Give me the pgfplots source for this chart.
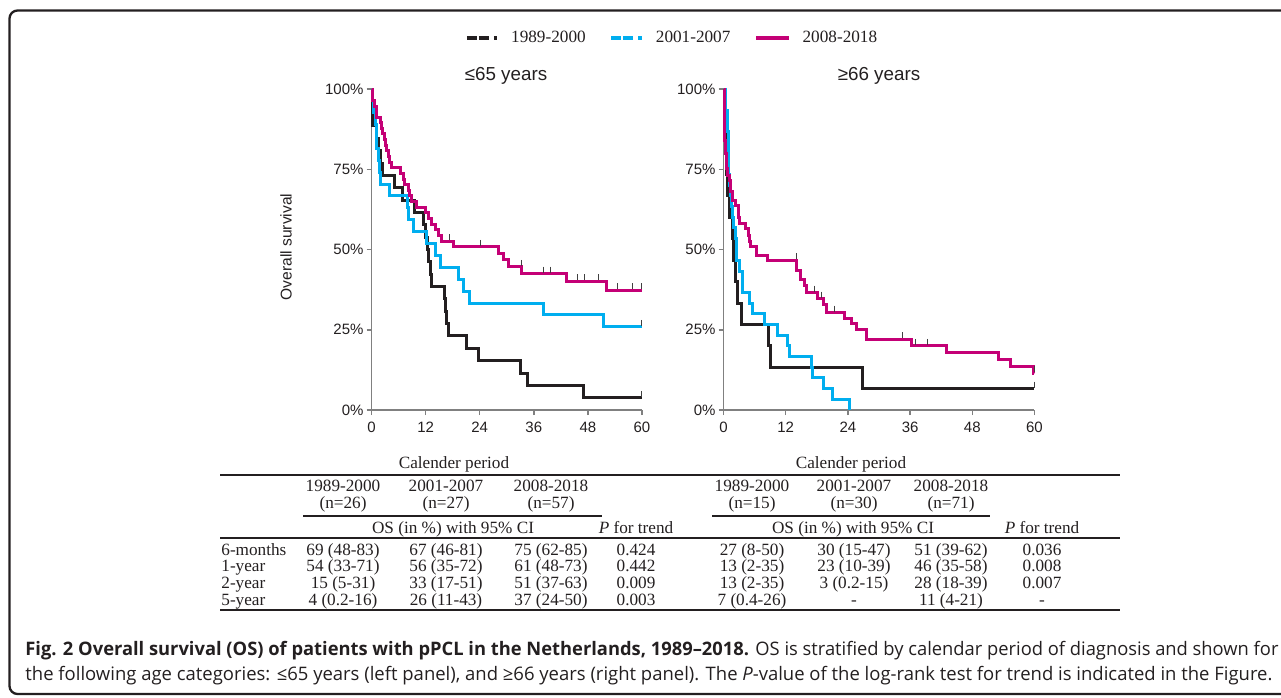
\documentclass[border=0pt]{standalone}
\usepackage{fontspec}
\setmainfont{Liberation Serif}
\setsansfont{Liberation Sans}
\newfontfamily\capfont{Open Sans}
\usepackage{graphicx}
\usepackage{pgfplots}
\pgfplotsset{compat=1.18}

\definecolor{kmblack}{RGB}{35,31,32}
\definecolor{kmcyan}{RGB}{0,174,239}
\definecolor{kmmag}{RGB}{196,0,118}
\definecolor{axgray}{RGB}{128,128,128}
\newcommand{\tabfont}{\fontsize{8.6}{10}\selectfont}

\pgfplotsset{
  kmaxis/.style={
    scale only axis, height=160.5pt,
    xmin=0, xmax=60, ymin=0, ymax=100,
    axis lines=left,
    axis line style={axgray, line width=0.75pt, -},
    xtick={0,12,24,36,48,60},
    xticklabels={0,12,24,36,48,60},
    ytick={0,25,50,75,100},
    yticklabels={0\%,25\%,50\%,75\%,100\%},
    tick align=outside,
    major tick length=2.5pt,
    tick style={axgray, line width=0.75pt},
    ticklabel style={font=\sffamily\fontsize{7.5}{9}\selectfont, text=kmblack},
    yticklabel style={xshift=2pt},
    clip=false,
  },
  kmline/.style={const plot, line width=1.5pt},
  censor/.style={only marks, mark=|, mark size=1.5pt, forget plot,
    mark options={draw=black!75, line width=0.5pt, yshift=2pt}},
}

\begin{document}
\begin{tikzpicture}[x=0.5pt,y=-0.5pt]
\useasboundingbox (0,0) rectangle (1281,697);
\draw[kmblack, line width=1.15pt, rounded corners=4pt] (9.5,10.5) rectangle (1320,694);

% ---------------- left panel: <=65 years ----------------
\begin{axis}[kmaxis, width=135.25pt, at={(185.75pt,-205pt)}, anchor=south west,
  legend columns=3,
  legend cell align=left,
  legend style={draw=none, fill=none, at={(1.1146,1.1589)}, anchor=center,
    font=\tabfont, text=kmblack,
    /tikz/every odd column/.append style={column sep=4pt},
    /tikz/every even column/.append style={column sep=10pt}},
]
\addplot[kmline, kmblack, legend image code/.code={\draw[kmblack, line width=2.2pt, dash pattern=on 5pt off 1pt on 5pt off 2.5pt on 1.5pt off 0pt] (0pt,0pt) -- (15pt,0pt);}]
coordinates {(0,100)(0.3,88.5)(1.2,84.6)(1.6,80.8)(1.9,76.9)(2.5,73.1)(5.2,69.2)(6.9,65.4)(9.6,61.5)(11.5,57.7)(12.0,53.8)(12.4,50.0)(12.7,46.2)(13.0,42.3)(13.3,38.5)(16.1,34.6)(16.4,30.8)(16.7,26.9)(17.0,23.1)(21.1,19.2)(23.7,15.4)(33.0,11.5)(34.6,7.7)(47.0,3.8)(60,3.8)};
\addlegendentry{1989-2000}
\addplot[kmline, kmcyan, legend image code/.code={\draw[kmcyan, line width=1.6pt, dash pattern=on 5pt off 1pt on 5pt off 2.5pt on 1.5pt off 0pt] (0pt,0pt) -- (15.5pt,0pt);}]
coordinates {(0,100)(0.2,96.3)(0.5,92.6)(0.8,88.9)(1.0,85.2)(1.2,81.5)(1.5,77.8)(1.85,74.1)(2.1,70.4)(4.1,66.7)(7.9,63.0)(8.2,59.3)(9.3,55.6)(12.2,51.9)(14.1,48.1)(15.2,44.4)(19.3,40.7)(20.4,37.0)(21.7,33.3)(38.1,29.6)(51.5,25.9)(60,25.9)};
\addlegendentry{2001-2007}
\addplot[kmline, kmmag, legend image code/.code={\draw[kmmag, line width=1.6pt] (0pt,0pt) -- (16.5pt,0pt);}]
coordinates {(0,100)(0.3,96.5)(0.7,94.7)(1.1,91.2)(1.9,89.5)(2.2,87.7)(2.5,86.0)(2.8,84.2)(3.1,82.5)(3.4,80.7)(3.7,78.9)(4.1,77.2)(4.4,75.4)(6.5,73.7)(7.0,71.9)(7.4,70.2)(8.2,68.4)(8.5,66.7)(8.9,64.9)(9.9,63.2)(11.9,61.4)(12.6,59.6)(13.3,57.9)(14.1,56.1)(14.8,54.4)(15.5,52.6)(18.1,50.8)(28.1,48.9)(29.3,47.0)(30.4,44.6)(33.3,42.5)(43.2,40.1)(52.1,37.3)(60,37.3)};
\addlegendentry{2008-2018}
\addplot[censor] coordinates {(17.3,52.6)(24.1,50.8)(33.3,44.6)(38.1,42.5)(39.6,42.5)(45.7,40.1)(47.2,40.1)(50.4,40.1)(54.6,37.3)(57.8,37.3)(60,37.3)(60,25.9)(60,3.8)};
\end{axis}

% ---------------- right panel: >=66 years ----------------
\begin{axis}[kmaxis, width=155.5pt, at={(361.75pt,-205pt)}, anchor=south west]
\addplot[kmline, kmblack]
coordinates {(0,100)(0.1,93.3)(0.2,86.7)(0.35,80)(0.5,73.3)(0.8,66.7)(1.1,60)(1.75,53.3)(1.9,46.7)(2.25,40)(2.7,33.3)(3.4,26.7)(8.7,20)(9.0,13.3)(26.8,6.7)(60,6.7)};
\addplot[kmline, kmcyan]
coordinates {(0,100)(0.45,93.3)(0.7,90)(0.8,86.7)(0.9,83.3)(0.95,80)(1.0,76.7)(1.05,73.3)(1.1,70)(1.3,66.7)(1.45,63.3)(1.75,60)(1.9,56.7)(2.3,53.3)(2.5,50)(2.6,46.7)(3.0,43.3)(3.7,40)(3.75,36.7)(5.1,33.3)(5.5,30)(7.9,26.7)(10.5,23.3)(12.4,20)(12.7,16.7)(16.9,13.3)(17.1,10)(19.2,6.7)(21.0,3.3)(24.35,0)};
\addplot[kmline, kmmag]
coordinates {(0,100)(0.1,93)(0.2,86)(0.26,83.9)(0.4,80)(0.58,75.1)(0.8,73.2)(1.1,71.5)(1.4,68)(1.74,65.3)(2.4,63.7)(2.9,60)(3.04,58)(4.33,56.5)(4.85,54.4)(5.0,52.6)(5.3,50.8)(6.4,48.2)(8.53,46.6)(14.0,43.5)(14.8,40.6)(15.6,38.9)(16.0,36.6)(18.2,34.7)(19.2,33.0)(19.8,30.3)(23.4,28.5)(24.7,26.9)(25.6,25.1)(27.6,22.0)(36.3,20.0)(43.1,17.8)(53.1,15.8)(55.4,13.5)(59.8,11.4)(60,11.4)};
\addplot[censor] coordinates {(14.0,46.6)(17.6,36.6)(18.9,34.7)(21.4,30.3)(34.6,22.0)(37.0,20.0)(39.3,20.0)(60,11.4)(60,6.7)};
\end{axis}

% titles and y label
\node[font=\sffamily\fontsize{9.4}{11}\selectfont, text=kmblack] at (506,76) {≤65 years};
\node[font=\sffamily\fontsize{9.4}{11}\selectfont, text=kmblack] at (879,76) {≥66 years};
\node[font=\sffamily\fontsize{7.8}{9}\selectfont, text=kmblack, rotate=90] at (286,247) {Overall survival};

% ---------------- table ----------------
\begin{scope}[font=\tabfont, text=kmblack, every node/.style={inner sep=0pt, anchor=base}]
\draw[kmblack, line width=1pt] (220,475) -- (1120,475);
\draw[kmblack, line width=0.8pt] (303,516) -- (602,516);
\draw[kmblack, line width=0.8pt] (712,516) -- (990,516);
\draw[kmblack, line width=0.8pt] (220,538) -- (1120,538);
\draw[kmblack, line width=1pt] (220,610) -- (1120,610);

\node at (454,468) {Calender period};
\node at (851,468) {Calender period};

\node at (343,491) {1989-2000}; \node at (446,491) {2001-2007}; \node at (551,491) {2008-2018};
\node at (343,508) {(n=26)}; \node at (446,508) {(n=27)}; \node at (551,508) {(n=57)};
\node at (752,491) {1989-2000}; \node at (854,491) {2001-2007}; \node at (951,491) {2008-2018};
\node at (752,508) {(n=15)}; \node at (854,508) {(n=30)}; \node at (951,508) {(n=71)};

\node at (453,533) {OS (in \%) with 95\% CI};
\node at (853,533) {OS (in \%) with 95\% CI};
\node at (636,533) {\textit{P} for trend};
\node at (1042,533) {\textit{P} for trend};

\node[anchor=base west] at (221,555) {6-months};
\node[anchor=base west] at (221,571.5) {1-year};
\node[anchor=base west] at (221,588) {2-year};
\node[anchor=base west] at (221,605) {5-year};

\node at (343,555) {69 (48-83)}; \node at (446,555) {67 (46-81)}; \node at (551,555) {75 (62-85)}; \node at (636,555) {0.424};
\node at (343,571.5) {54 (33-71)}; \node at (446,571.5) {56 (35-72)}; \node at (551,571.5) {61 (48-73)}; \node at (636,571.5) {0.442};
\node at (343,588) {15 (5-31)}; \node at (446,588) {33 (17-51)}; \node at (551,588) {51 (37-63)}; \node at (636,588) {0.009};
\node at (343,605) {4 (0.2-16)}; \node at (446,605) {26 (11-43)}; \node at (551,605) {37 (24-50)}; \node at (636,605) {0.003};

\node at (752,555) {27 (8-50)}; \node at (854,555) {30 (15-47)}; \node at (951,555) {51 (39-62)}; \node at (1042,555) {0.036};
\node at (752,571.5) {13 (2-35)}; \node at (854,571.5) {23 (10-39)}; \node at (951,571.5) {46 (35-58)}; \node at (1042,571.5) {0.008};
\node at (752,588) {13 (2-35)}; \node at (854,588) {3 (0.2-15)}; \node at (951,588) {28 (18-39)}; \node at (1042,588) {0.007};
\node at (752,605) {7 (0.4-26)}; \node at (854,605) {-}; \node at (951,605) {11 (4-21)}; \node at (1042,605) {-};
\end{scope}

% ---------------- caption ----------------
\node[anchor=base west, inner sep=0pt, text=kmblack] at (25,655) {\resizebox{626.5pt}{\height}{\capfont\fontsize{9.3}{11}\selectfont\textbf{Fig. 2 Overall survival (OS) of patients with pPCL in the Netherlands, 1989–2018.} OS is stratified by calendar period of diagnosis and shown for}};
\node[anchor=base west, inner sep=0pt, text=kmblack] at (25,680) {\resizebox{623.5pt}{\height}{\capfont\fontsize{9.3}{11}\selectfont the following age categories: ≤65 years (left panel), and ≥66 years (right panel). The \textit{P}-value of the log-rank test for trend is indicated in the Figure.}};
\end{tikzpicture}
\end{document}
